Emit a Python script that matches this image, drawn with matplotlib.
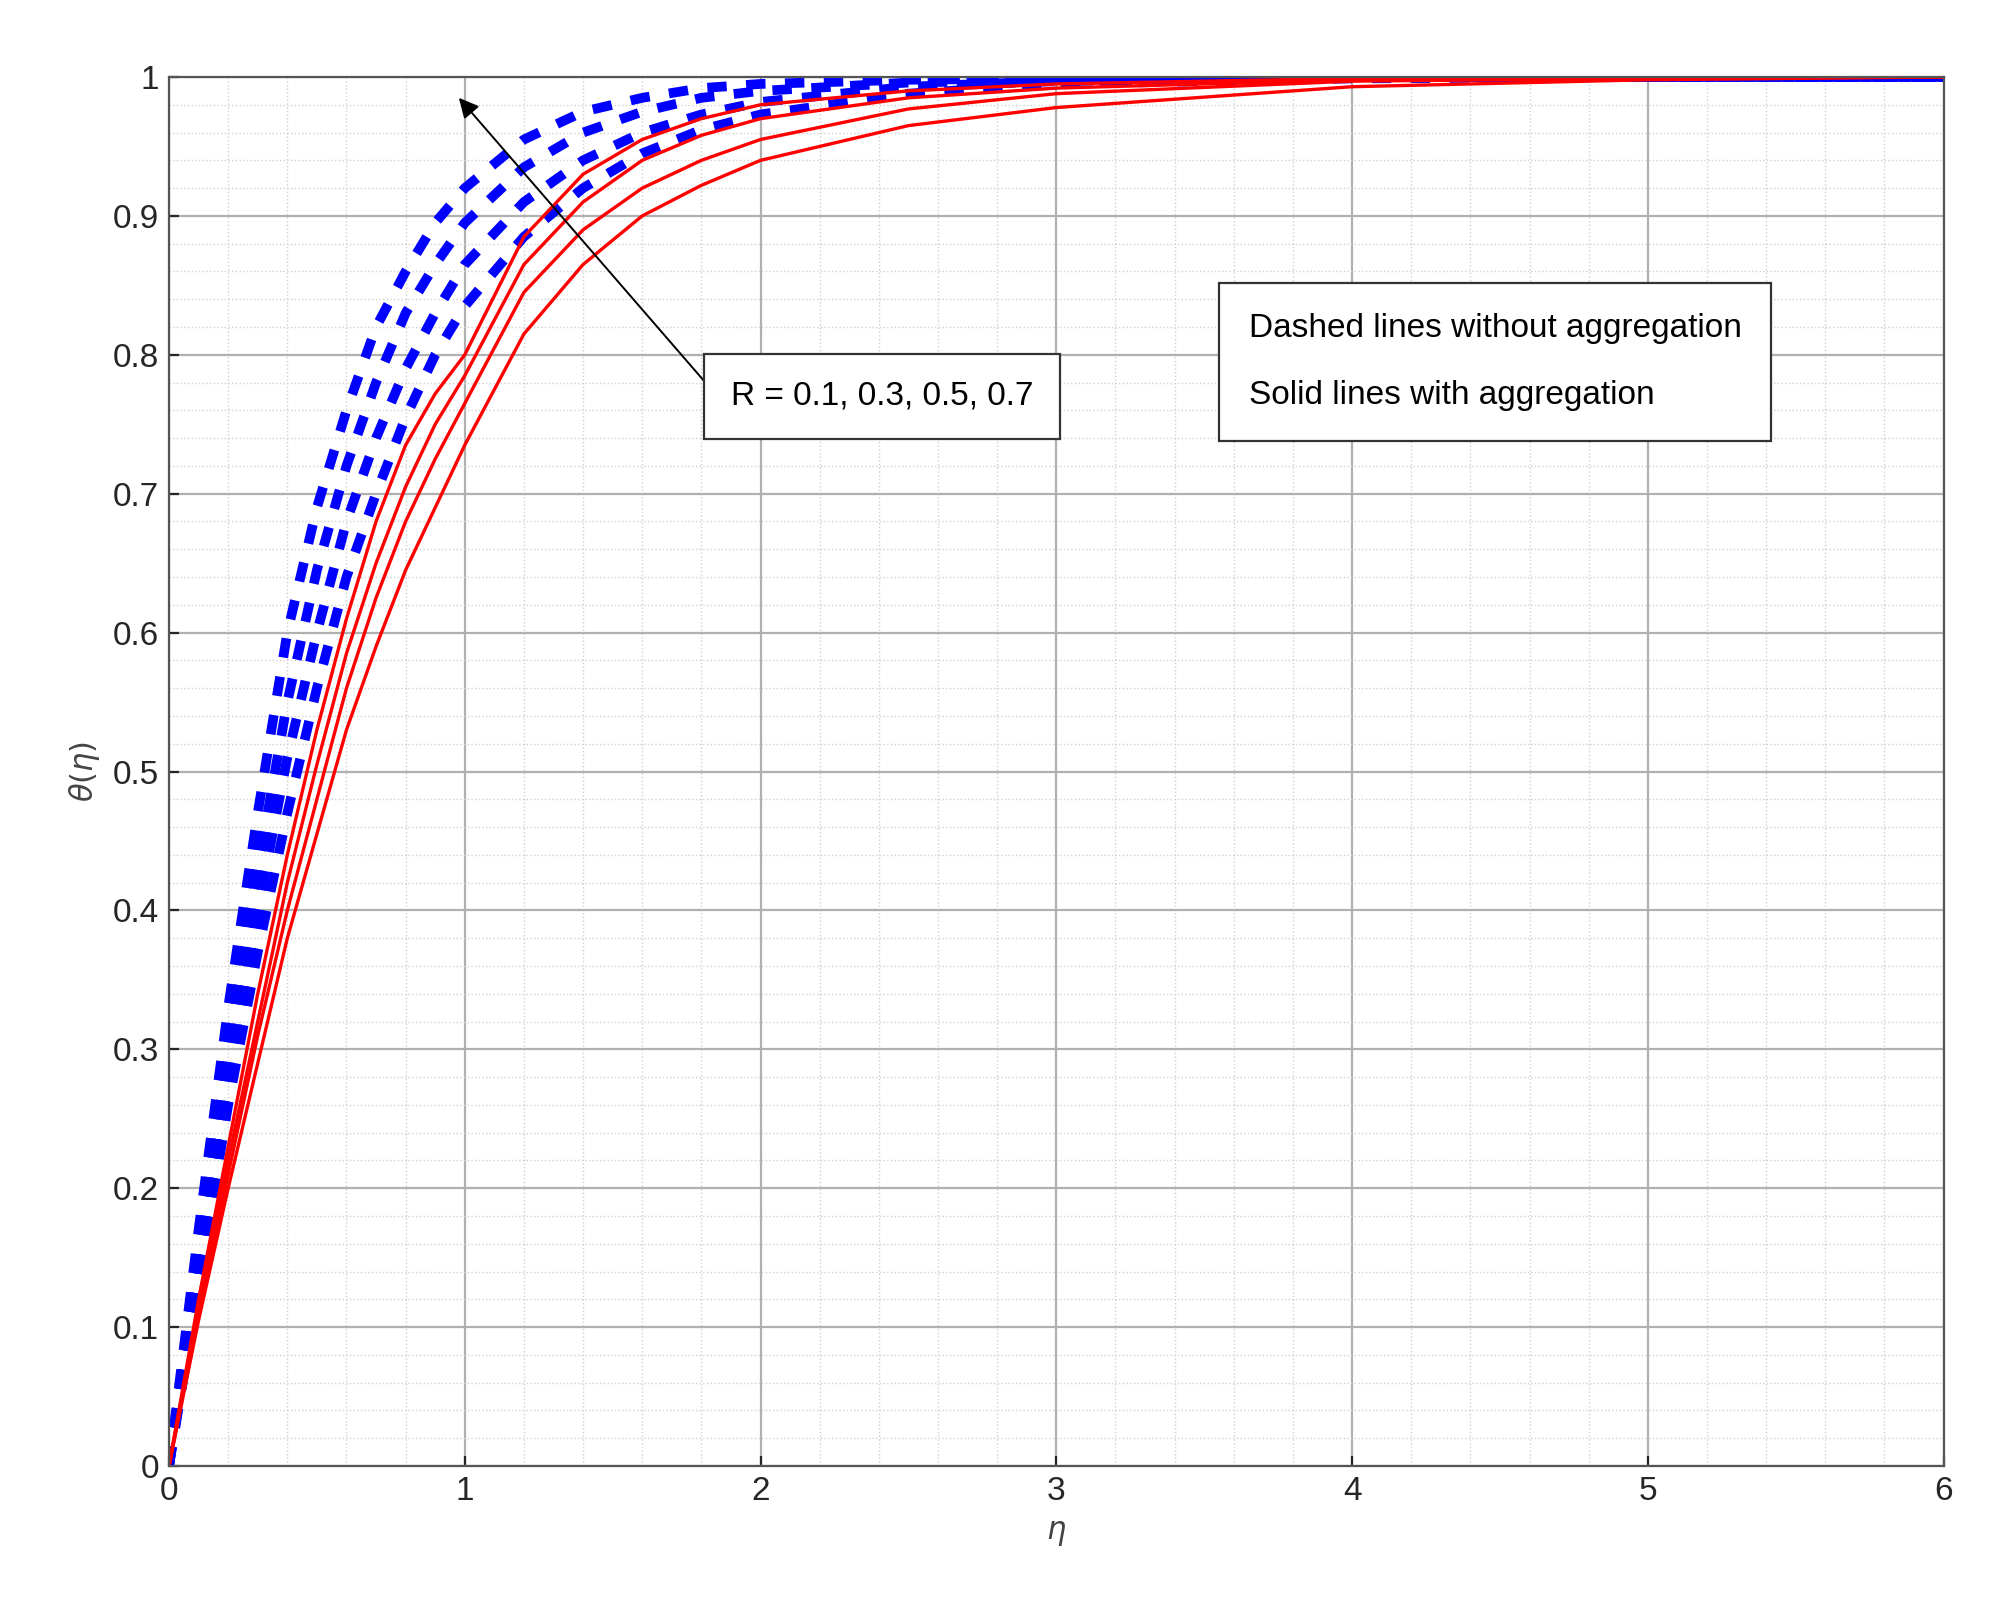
import numpy as np
import matplotlib.pyplot as plt
from matplotlib.ticker import MultipleLocator

plt.rcParams['font.family'] = ['Liberation Sans', 'DejaVu Sans']

eta = [0, 0.1, 0.2, 0.3, 0.4, 0.5, 0.6, 0.7, 0.8, 0.9, 1.0, 1.2, 1.4, 1.6, 1.8, 2.0, 2.5, 3.0, 4.0, 5.0, 6.0]

# dashed lines: without aggregation, R = 0.1, 0.3, 0.5, 0.7
theta_dashed = [
    [0, 0.17, 0.33, 0.47, 0.60, 0.69, 0.76, 0.82, 0.86, 0.895, 0.92, 0.955, 0.975, 0.985, 0.992, 0.995, 0.998, 0.999, 1, 1, 1],
    [0, 0.15, 0.30, 0.43, 0.55, 0.645, 0.72, 0.78, 0.83, 0.865, 0.895, 0.935, 0.96, 0.975, 0.985, 0.99, 0.996, 0.998, 1, 1, 1],
    [0, 0.14, 0.28, 0.40, 0.51, 0.60, 0.68, 0.74, 0.79, 0.83, 0.865, 0.91, 0.94, 0.96, 0.973, 0.982, 0.993, 0.997, 1, 1, 1],
    [0, 0.13, 0.26, 0.37, 0.47, 0.56, 0.64, 0.70, 0.755, 0.80, 0.835, 0.885, 0.92, 0.945, 0.962, 0.973, 0.988, 0.995, 0.999, 1, 1],
]
# solid lines: with aggregation
theta_solid = [
    [0, 0.12, 0.23, 0.34, 0.44, 0.53, 0.61, 0.68, 0.735, 0.772, 0.80, 0.885, 0.93, 0.955, 0.97, 0.98, 0.99, 0.995, 0.999, 1, 1],
    [0, 0.115, 0.22, 0.32, 0.42, 0.505, 0.585, 0.65, 0.705, 0.75, 0.785, 0.865, 0.91, 0.94, 0.958, 0.97, 0.985, 0.992, 0.998, 1, 1],
    [0, 0.11, 0.21, 0.31, 0.40, 0.48, 0.56, 0.625, 0.68, 0.725, 0.765, 0.845, 0.89, 0.92, 0.94, 0.955, 0.977, 0.988, 0.997, 0.999, 1],
    [0, 0.105, 0.20, 0.29, 0.38, 0.455, 0.53, 0.59, 0.645, 0.69, 0.735, 0.815, 0.865, 0.9, 0.922, 0.94, 0.965, 0.978, 0.993, 0.998, 1],
]

fig = plt.figure(figsize=(10.06, 8.02), dpi=200)
ax = fig.add_axes([0.084, 0.086, 0.882, 0.866])

for th in theta_dashed:
    ax.plot(eta, th, color="blue", lw=3.5, ls=(0, (2.0, 2.0)))
for th in theta_solid:
    ax.plot(eta, th, color="red", lw=1.2)

ax.set_xlim(0, 6)
ax.set_ylim(0, 1)
ax.xaxis.set_major_locator(MultipleLocator(1))
ax.xaxis.set_minor_locator(MultipleLocator(0.2))
ax.yaxis.set_minor_locator(MultipleLocator(0.02))
ax.set_yticks(np.arange(0, 1.01, 0.1))
ax.set_yticklabels(["0", "0.1", "0.2", "0.3", "0.4", "0.5", "0.6", "0.7", "0.8", "0.9", "1"])
ax.grid(which="major", color="#b0b0b0", lw=0.8)
ax.grid(which="minor", color="#d0d0d0", lw=0.5, ls=":")
ax.tick_params(labelsize=12, colors="#262626", direction="in")
ax.tick_params(which="minor", length=0)
for s in ax.spines.values():
    s.set_color("#555555")
ax.set_xlabel(r"$\eta$", fontsize=11, color="#444444")
ax.set_ylabel(r"$\theta(\eta)$", fontsize=11, color="#444444")

ax.annotate("R = 0.1, 0.3, 0.5, 0.7", xy=(0.98, 0.985), xytext=(1.9, 0.77),
            fontsize=12, va="center",
            bbox=dict(boxstyle="square,pad=0.8", fc="white", ec="#333333", lw=0.8),
            arrowprops=dict(arrowstyle="-|>", color="black", lw=0.7, mutation_scale=15,
                            shrinkA=0, shrinkB=0, relpos=(0, 0)))
ax.text(3.65, 0.795, "Dashed lines without aggregation\n\nSolid lines with aggregation",
        fontsize=12, va="center", linespacing=1.1,
        bbox=dict(boxstyle="square,pad=0.9", fc="white", ec="#333333", lw=0.8))

fig.savefig("out.png")
